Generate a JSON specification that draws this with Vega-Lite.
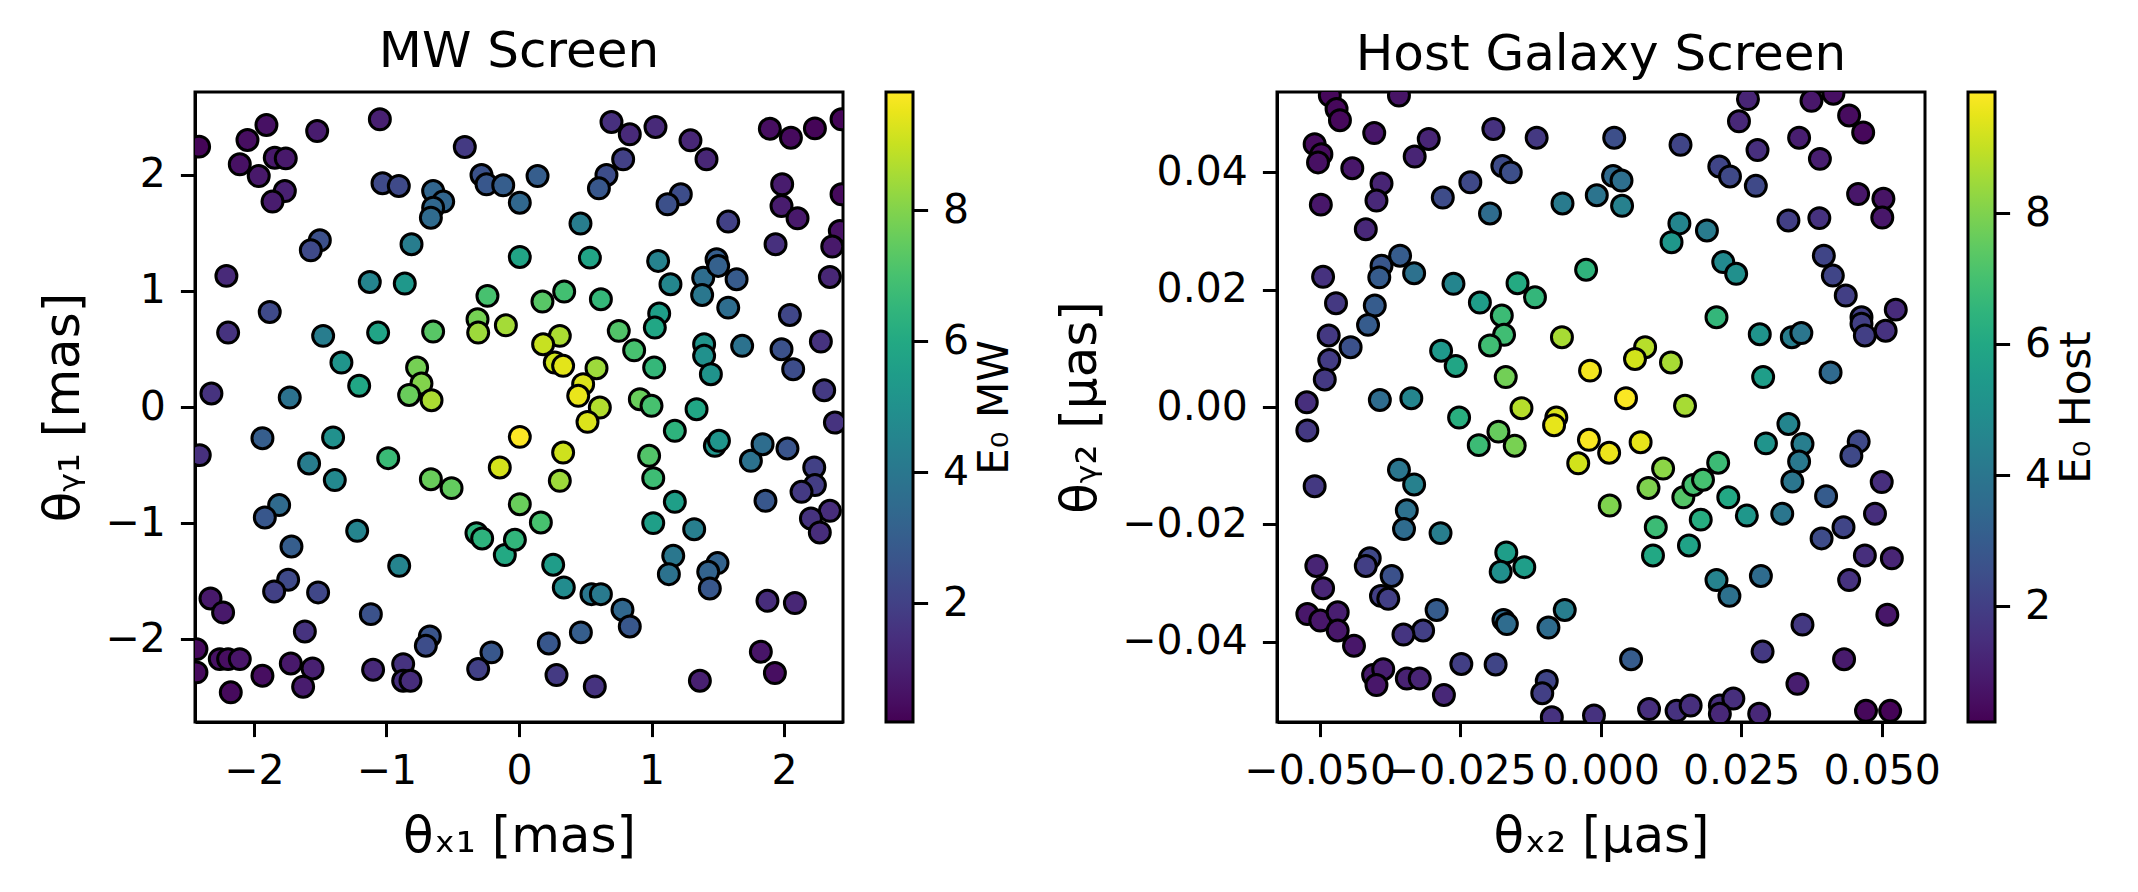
{
"$schema": "https://vega.github.io/schema/vega-lite/v6.json",
"background": "white",
"padding": {"left": 37, "top": 25, "right": 20, "bottom": 5},
"datasets": {
"mw": [
{"x":-2.414,"y":2.240,"e":0.3},{"x":-1.906,"y":2.426,"e":0.6},{"x":-2.049,"y":2.297,"e":0.5},{"x":-2.107,"y":2.088,"e":0.6},{"x":-1.843,"y":2.145,"e":0.8},{"x":-1.760,"y":2.139,"e":0.8},{"x":-1.964,"y":1.987,"e":0.8},{"x":-1.767,"y":1.858,"e":1.0},{"x":-1.860,"y":1.767,"e":0.9},{"x":-1.523,"y":2.374,"e":0.9},
{"x":-1.050,"y":2.475,"e":1.0},{"x":-0.409,"y":2.237,"e":1.8},{"x":-0.283,"y":1.996,"e":2.6},{"x":-0.245,"y":1.916,"e":2.8},{"x":-0.119,"y":1.907,"e":3.0},{"x":0.006,"y":1.758,"e":3.4},{"x":-1.030,"y":1.925,"e":2.3},{"x":-0.907,"y":1.902,"e":2.3},{"x":-0.648,"y":1.858,"e":3.3},{"x":-0.572,"y":1.767,"e":3.3},
{"x":-0.648,"y":1.715,"e":3.4},{"x":-0.665,"y":1.629,"e":3.5},{"x":-1.503,"y":1.434,"e":2.5},{"x":-1.571,"y":1.348,"e":2.3},{"x":-0.811,"y":1.400,"e":4.2},{"x":0.006,"y":1.291,"e":5.8},{"x":-2.208,"y":1.128,"e":1.3},{"x":-1.126,"y":1.076,"e":4.5},{"x":-0.862,"y":1.062,"e":5.3},{"x":-1.881,"y":0.818,"e":2.3},
{"x":-2.195,"y":0.640,"e":1.6},{"x":-1.478,"y":0.612,"e":4.2},{"x":-1.063,"y":0.640,"e":5.8},{"x":-0.648,"y":0.649,"e":7.3},{"x":-0.238,"y":0.956,"e":7.0},{"x":-0.313,"y":0.755,"e":7.8},{"x":-0.308,"y":0.640,"e":8.4},{"x":-0.099,"y":0.703,"e":8.5},{"x":-1.340,"y":0.382,"e":5.2},{"x":-1.206,"y":0.182,"e":5.9},
{"x":-0.769,"y":0.339,"e":7.8},{"x":-0.736,"y":0.202,"e":8.0},{"x":-0.829,"y":0.104,"e":7.6},{"x":-0.660,"y":0.058,"e":8.6},{"x":-2.321,"y":0.116,"e":1.6},{"x":-1.730,"y":0.081,"e":3.8},{"x":-1.936,"y":-0.268,"e":3.0},{"x":-1.403,"y":-0.262,"e":5.0},{"x":-2.409,"y":-0.414,"e":1.5},{"x":-1.584,"y":-0.486,"e":4.2},
{"x":-1.390,"y":-0.629,"e":4.7},{"x":-0.987,"y":-0.440,"e":6.7},{"x":-0.665,"y":-0.621,"e":7.6},{"x":-0.509,"y":-0.698,"e":7.5},{"x":0.006,"y":-0.257,"e":9.8},{"x":-0.145,"y":-0.520,"e":9.2},{"x":0.006,"y":-0.836,"e":7.6},{"x":-1.810,"y":-0.844,"e":3.5},{"x":-1.918,"y":-0.950,"e":2.8},{"x":-1.221,"y":-1.065,"e":4.5},
{"x":-1.717,"y":-1.200,"e":3.0},{"x":-0.904,"y":-1.366,"e":4.5},{"x":-0.321,"y":-1.085,"e":6.4},{"x":-0.278,"y":-1.131,"e":6.4},{"x":-0.107,"y":-1.274,"e":6.0},{"x":-0.031,"y":-1.142,"e":6.5},{"x":-1.742,"y":-1.486,"e":2.3},{"x":-1.848,"y":-1.587,"e":2.0},{"x":-1.516,"y":-1.595,"e":2.2},{"x":-2.328,"y":-1.647,"e":0.8},
{"x":-2.233,"y":-1.767,"e":0.8},{"x":-1.118,"y":-1.782,"e":2.6},{"x":-1.616,"y":-1.931,"e":1.6},{"x":-0.673,"y":-1.974,"e":2.7},{"x":-0.703,"y":-2.054,"e":2.4},{"x":-0.208,"y":-2.111,"e":2.8},{"x":-0.308,"y":-2.255,"e":2.0},{"x":-2.434,"y":-2.083,"e":0.4},{"x":-2.434,"y":-2.283,"e":0.4},{"x":-2.258,"y":-2.169,"e":0.6},
{"x":-2.195,"y":-2.169,"e":0.5},{"x":-2.107,"y":-2.169,"e":0.7},{"x":-1.936,"y":-2.312,"e":0.5},{"x":-2.175,"y":-2.455,"e":0.4},{"x":-1.722,"y":-2.206,"e":0.8},{"x":-1.558,"y":-2.249,"e":1.0},{"x":-1.629,"y":-2.406,"e":0.9},{"x":-1.101,"y":-2.260,"e":1.3},{"x":-0.874,"y":-2.212,"e":1.6},{"x":-0.874,"y":-2.355,"e":1.5},
{"x":-0.819,"y":-2.355,"e":1.4},{"x":0.140,"y":1.987,"e":3.0},{"x":0.698,"y":2.452,"e":1.5},{"x":0.836,"y":2.346,"e":1.3},{"x":1.030,"y":2.409,"e":1.3},{"x":1.294,"y":2.294,"e":1.2},{"x":1.415,"y":2.131,"e":1.2},{"x":0.786,"y":2.131,"e":2.0},{"x":0.660,"y":1.996,"e":2.4},{"x":0.603,"y":1.881,"e":2.8},
{"x":1.221,"y":1.830,"e":2.4},{"x":1.121,"y":1.744,"e":2.5},{"x":0.464,"y":1.578,"e":4.2},{"x":1.579,"y":1.595,"e":2.0},{"x":1.893,"y":2.394,"e":0.5},{"x":2.052,"y":2.317,"e":0.4},{"x":2.233,"y":2.397,"e":0.3},{"x":2.434,"y":2.475,"e":0.3},{"x":1.986,"y":1.916,"e":0.9},{"x":1.981,"y":1.729,"e":0.9},
{"x":2.102,"y":1.623,"e":0.8},{"x":2.434,"y":1.830,"e":0.4},{"x":2.421,"y":1.514,"e":0.6},{"x":2.364,"y":1.380,"e":0.8},{"x":1.936,"y":1.400,"e":1.5},{"x":2.346,"y":1.119,"e":1.2},{"x":0.535,"y":1.285,"e":5.8},{"x":1.050,"y":1.257,"e":4.4},{"x":1.143,"y":1.056,"e":4.6},{"x":1.390,"y":1.113,"e":3.6},
{"x":1.491,"y":1.271,"e":3.0},{"x":1.503,"y":1.214,"e":3.1},{"x":1.642,"y":1.099,"e":2.9},{"x":1.382,"y":0.964,"e":4.0},{"x":1.579,"y":0.855,"e":3.6},{"x":0.177,"y":0.907,"e":7.3},{"x":0.341,"y":0.993,"e":6.9},{"x":0.618,"y":0.927,"e":6.6},{"x":1.058,"y":0.804,"e":5.6},{"x":1.025,"y":0.683,"e":5.9},
{"x":0.753,"y":0.655,"e":7.2},{"x":0.869,"y":0.488,"e":7.0},{"x":1.020,"y":0.339,"e":6.6},{"x":0.308,"y":0.612,"e":8.6},{"x":0.182,"y":0.540,"e":9.0},{"x":0.270,"y":0.382,"e":9.1},{"x":0.333,"y":0.354,"e":9.4},{"x":0.585,"y":0.334,"e":8.4},{"x":0.484,"y":0.196,"e":9.3},{"x":0.447,"y":0.096,"e":9.5},
{"x":0.610,"y":-0.005,"e":8.7},{"x":0.912,"y":0.067,"e":7.6},{"x":1.000,"y":0.010,"e":7.0},{"x":1.397,"y":0.540,"e":5.2},{"x":1.397,"y":0.440,"e":5.0},{"x":1.448,"y":0.282,"e":5.1},{"x":1.684,"y":0.526,"e":3.8},{"x":2.044,"y":0.792,"e":2.2},{"x":2.278,"y":0.563,"e":1.6},{"x":1.981,"y":0.497,"e":2.6},
{"x":2.069,"y":0.325,"e":2.4},{"x":2.303,"y":0.144,"e":1.8},{"x":1.340,"y":-0.019,"e":5.9},{"x":0.517,"y":-0.128,"e":9.3},{"x":2.384,"y":-0.134,"e":1.6},{"x":0.333,"y":-0.392,"e":9.1},{"x":0.308,"y":-0.635,"e":8.4},{"x":0.982,"y":-0.420,"e":7.2},{"x":1.013,"y":-0.612,"e":6.8},{"x":1.176,"y":-0.205,"e":6.4},
{"x":1.478,"y":-0.334,"e":5.2},{"x":1.509,"y":-0.291,"e":5.2},{"x":1.750,"y":-0.463,"e":3.8},{"x":1.838,"y":-0.320,"e":3.6},{"x":2.026,"y":-0.357,"e":2.7},{"x":2.228,"y":-0.520,"e":2.0},{"x":2.233,"y":-0.672,"e":1.9},{"x":2.132,"y":-0.730,"e":1.8},{"x":2.346,"y":-0.893,"e":1.4},{"x":2.203,"y":-0.959,"e":1.6},
{"x":2.270,"y":-1.079,"e":1.4},{"x":1.860,"y":-0.807,"e":2.8},{"x":0.165,"y":-0.993,"e":7.0},{"x":1.176,"y":-0.816,"e":5.6},{"x":1.013,"y":-0.999,"e":5.6},{"x":1.322,"y":-1.051,"e":4.3},{"x":1.164,"y":-1.280,"e":4.0},{"x":1.131,"y":-1.438,"e":3.8},{"x":1.498,"y":-1.343,"e":3.2},{"x":1.428,"y":-1.418,"e":3.2},
{"x":1.440,"y":-1.561,"e":2.8},{"x":0.258,"y":-1.357,"e":5.5},{"x":0.338,"y":-1.552,"e":4.8},{"x":0.547,"y":-1.610,"e":4.0},{"x":0.618,"y":-1.610,"e":4.1},{"x":0.781,"y":-1.744,"e":3.4},{"x":0.836,"y":-1.888,"e":2.8},{"x":0.467,"y":-1.939,"e":3.0},{"x":0.225,"y":-2.034,"e":2.8},{"x":0.283,"y":-2.306,"e":1.8},
{"x":0.572,"y":-2.404,"e":1.6},{"x":1.365,"y":-2.355,"e":1.0},{"x":1.875,"y":-1.667,"e":1.4},{"x":2.082,"y":-1.687,"e":1.2},{"x":1.825,"y":-2.105,"e":0.7},{"x":1.931,"y":-2.289,"e":0.5}
],
"host": [
{"x":-0.0482,"y":0.0531,"e":0.4},{"x":-0.0470,"y":0.0508,"e":0.4},{"x":-0.0464,"y":0.0489,"e":0.4},{"x":-0.0359,"y":0.0531,"e":0.7},{"x":-0.0403,"y":0.0467,"e":0.8},{"x":-0.0509,"y":0.0448,"e":0.5},{"x":-0.0497,"y":0.0431,"e":0.5},{"x":-0.0503,"y":0.0417,"e":0.6},{"x":-0.0442,"y":0.0407,"e":0.8},{"x":-0.0306,"y":0.0457,"e":1.2},
{"x":-0.0331,"y":0.0427,"e":1.2},{"x":-0.0390,"y":0.0381,"e":1.2},{"x":-0.0399,"y":0.0352,"e":1.3},{"x":-0.0498,"y":0.0345,"e":0.8},{"x":-0.0418,"y":0.0303,"e":1.3},{"x":-0.0191,"y":0.0474,"e":1.6},{"x":-0.0114,"y":0.0459,"e":1.8},{"x":-0.0175,"y":0.0411,"e":2.4},{"x":-0.0160,"y":0.0400,"e":2.5},{"x":-0.0232,"y":0.0383,"e":2.3},
{"x":-0.0281,"y":0.0357,"e":2.4},{"x":-0.0197,"y":0.0330,"e":3.6},{"x":-0.0068,"y":0.0347,"e":4.2},{"x":-0.0007,"y":0.0361,"e":3.9},{"x":-0.0494,"y":0.0222,"e":1.6},{"x":-0.0471,"y":0.0177,"e":1.8},{"x":-0.0390,"y":0.0241,"e":2.8},{"x":-0.0357,"y":0.0258,"e":3.0},{"x":-0.0394,"y":0.0221,"e":3.0},{"x":-0.0332,"y":0.0228,"e":3.8},
{"x":-0.0402,"y":0.0173,"e":3.0},{"x":-0.0414,"y":0.0140,"e":3.0},{"x":-0.0484,"y":0.0122,"e":1.8},{"x":-0.0445,"y":0.0102,"e":2.6},{"x":-0.0483,"y":0.0080,"e":1.9},{"x":-0.0491,"y":0.0047,"e":1.8},{"x":-0.0523,"y":0.0008,"e":1.5},{"x":-0.0262,"y":0.0210,"e":4.6},{"x":-0.0215,"y":0.0178,"e":5.6},{"x":-0.0148,"y":0.0211,"e":6.1},
{"x":-0.0117,"y":0.0187,"e":6.6},{"x":-0.0176,"y":0.0156,"e":6.8},{"x":-0.0172,"y":0.0123,"e":6.9},{"x":-0.0197,"y":0.0105,"e":6.9},{"x":-0.0026,"y":0.0234,"e":6.5},{"x":-0.0069,"y":0.0119,"e":8.6},{"x":-0.0019,"y":0.0062,"e":9.7},{"x":-0.0284,"y":0.0096,"e":5.4},{"x":-0.0258,"y":0.0070,"e":5.9},{"x":-0.0169,"y":0.0051,"e":7.8},
{"x":-0.0393,"y":0.0012,"e":3.6},{"x":-0.0337,"y":0.0015,"e":4.6},{"x":0.0262,"y":0.0525,"e":1.2},{"x":0.0246,"y":0.0487,"e":1.3},{"x":0.0375,"y":0.0522,"e":0.8},{"x":0.0414,"y":0.0534,"e":0.6},{"x":0.0442,"y":0.0497,"e":0.5},{"x":0.0467,"y":0.0468,"e":0.4},{"x":0.0353,"y":0.0459,"e":1.0},{"x":0.0390,"y":0.0423,"e":1.0},
{"x":0.0279,"y":0.0438,"e":1.5},{"x":0.0024,"y":0.0459,"e":2.5},{"x":0.0142,"y":0.0447,"e":2.2},{"x":0.0211,"y":0.0410,"e":2.2},{"x":0.0230,"y":0.0393,"e":2.3},{"x":0.0276,"y":0.0377,"e":2.3},{"x":0.0022,"y":0.0394,"e":3.5},{"x":0.0037,"y":0.0386,"e":3.7},{"x":0.0038,"y":0.0343,"e":4.4},{"x":0.0458,"y":0.0363,"e":0.8},
{"x":0.0503,"y":0.0355,"e":0.7},{"x":0.0501,"y":0.0323,"e":0.8},{"x":0.0334,"y":0.0318,"e":2.0},{"x":0.0389,"y":0.0322,"e":1.6},{"x":0.0140,"y":0.0313,"e":4.6},{"x":0.0189,"y":0.0301,"e":4.2},{"x":0.0126,"y":0.0281,"e":5.3},{"x":0.0218,"y":0.0247,"e":4.8},{"x":0.0241,"y":0.0227,"e":5.0},{"x":0.0397,"y":0.0258,"e":2.2},
{"x":0.0413,"y":0.0224,"e":2.2},{"x":0.0436,"y":0.0190,"e":2.0},{"x":0.0464,"y":0.0153,"e":2.0},{"x":0.0464,"y":0.0142,"e":2.0},{"x":0.0470,"y":0.0122,"e":2.0},{"x":0.0507,"y":0.0130,"e":1.6},{"x":0.0525,"y":0.0166,"e":1.4},{"x":0.0206,"y":0.0153,"e":6.6},{"x":0.0283,"y":0.0124,"e":5.2},{"x":0.0340,"y":0.0119,"e":4.3},
{"x":0.0357,"y":0.0126,"e":4.0},{"x":0.0289,"y":0.0051,"e":5.6},{"x":0.0409,"y":0.0059,"e":3.5},{"x":0.0079,"y":0.0102,"e":8.8},{"x":0.0061,"y":0.0082,"e":9.2},{"x":0.0125,"y":0.0076,"e":8.6},{"x":0.0045,"y":0.0015,"e":9.8},{"x":0.0150,"y":0.0002,"e":8.6},{"x":-0.0522,"y":-0.0040,"e":1.8},{"x":-0.0509,"y":-0.0135,"e":1.8},
{"x":-0.0252,"y":-0.0018,"e":6.3},{"x":-0.0182,"y":-0.0042,"e":7.6},{"x":-0.0217,"y":-0.0065,"e":6.8},{"x":-0.0153,"y":-0.0066,"e":7.9},{"x":-0.0141,"y":-0.0002,"e":8.8},{"x":-0.0079,"y":-0.0018,"e":9.3},{"x":-0.0083,"y":-0.0031,"e":9.5},{"x":-0.0021,"y":-0.0056,"e":9.8},{"x":0.0015,"y":-0.0078,"e":9.6},{"x":-0.0040,"y":-0.0096,"e":9.2},
{"x":0.0016,"y":-0.0168,"e":8.0},{"x":-0.0359,"y":-0.0107,"e":4.0},{"x":-0.0332,"y":-0.0132,"e":4.4},{"x":-0.0345,"y":-0.0176,"e":3.8},{"x":-0.0350,"y":-0.0208,"e":3.6},{"x":-0.0285,"y":-0.0215,"e":4.3},{"x":-0.0168,"y":-0.0248,"e":5.6},{"x":-0.0178,"y":-0.0281,"e":5.0},{"x":-0.0136,"y":-0.0273,"e":5.6},{"x":-0.0506,"y":-0.0271,"e":1.2},
{"x":-0.0494,"y":-0.0309,"e":1.2},{"x":-0.0522,"y":-0.0353,"e":0.8},{"x":-0.0499,"y":-0.0364,"e":0.8},{"x":-0.0468,"y":-0.0350,"e":1.0},{"x":-0.0468,"y":-0.0381,"e":0.8},{"x":-0.0439,"y":-0.0407,"e":0.8},{"x":-0.0411,"y":-0.0258,"e":2.3},{"x":-0.0418,"y":-0.0271,"e":2.0},{"x":-0.0372,"y":-0.0288,"e":2.6},{"x":-0.0391,"y":-0.0322,"e":2.0},
{"x":-0.0378,"y":-0.0327,"e":2.0},{"x":-0.0292,"y":-0.0346,"e":3.0},{"x":-0.0316,"y":-0.0381,"e":2.0},{"x":-0.0351,"y":-0.0388,"e":1.7},{"x":-0.0173,"y":-0.0363,"e":3.5},{"x":-0.0167,"y":-0.0370,"e":3.6},{"x":-0.0064,"y":-0.0346,"e":4.3},{"x":-0.0093,"y":-0.0376,"e":3.6},{"x":-0.0248,"y":-0.0438,"e":2.0},{"x":-0.0187,"y":-0.0439,"e":2.2},
{"x":-0.0405,"y":-0.0457,"e":0.9},{"x":-0.0387,"y":-0.0447,"e":1.0},{"x":-0.0399,"y":-0.0474,"e":0.8},{"x":-0.0345,"y":-0.0463,"e":1.1},{"x":-0.0322,"y":-0.0463,"e":1.2},{"x":-0.0279,"y":-0.0491,"e":1.3},{"x":-0.0096,"y":-0.0467,"e":2.2},{"x":-0.0104,"y":-0.0488,"e":2.0},{"x":-0.0087,"y":-0.0529,"e":1.6},{"x":-0.0012,"y":-0.0526,"e":1.6},
{"x":0.0071,"y":-0.0060,"e":9.5},{"x":0.0111,"y":-0.0105,"e":8.2},{"x":0.0085,"y":-0.0138,"e":8.0},{"x":0.0147,"y":-0.0154,"e":7.3},{"x":0.0165,"y":-0.0133,"e":7.0},{"x":0.0182,"y":-0.0124,"e":7.0},{"x":0.0209,"y":-0.0095,"e":6.8},{"x":0.0227,"y":-0.0154,"e":6.0},{"x":0.0260,"y":-0.0185,"e":5.3},{"x":0.0178,"y":-0.0192,"e":6.2},
{"x":0.0098,"y":-0.0205,"e":6.8},{"x":0.0093,"y":-0.0253,"e":6.0},{"x":0.0157,"y":-0.0236,"e":5.8},{"x":0.0294,"y":-0.0062,"e":5.2},{"x":0.0334,"y":-0.0029,"e":4.6},{"x":0.0359,"y":-0.0063,"e":4.3},{"x":0.0353,"y":-0.0093,"e":4.1},{"x":0.0341,"y":-0.0127,"e":4.0},{"x":0.0323,"y":-0.0182,"e":4.0},{"x":0.0401,"y":-0.0152,"e":3.0},
{"x":0.0459,"y":-0.0059,"e":2.3},{"x":0.0446,"y":-0.0083,"e":2.3},{"x":0.0500,"y":-0.0128,"e":1.5},{"x":0.0488,"y":-0.0182,"e":1.5},{"x":0.0432,"y":-0.0205,"e":2.2},{"x":0.0393,"y":-0.0224,"e":2.4},{"x":0.0470,"y":-0.0253,"e":1.5},{"x":0.0518,"y":-0.0258,"e":1.2},{"x":0.0442,"y":-0.0295,"e":1.6},{"x":0.0510,"y":-0.0354,"e":0.8},
{"x":0.0206,"y":-0.0295,"e":4.5},{"x":0.0229,"y":-0.0322,"e":3.8},{"x":0.0285,"y":-0.0288,"e":3.6},{"x":0.0359,"y":-0.0371,"e":1.8},{"x":0.0288,"y":-0.0417,"e":1.8},{"x":0.0433,"y":-0.0430,"e":0.9},{"x":0.0350,"y":-0.0472,"e":1.0},{"x":0.0054,"y":-0.0430,"e":3.0},{"x":0.0086,"y":-0.0515,"e":1.5},{"x":0.0135,"y":-0.0518,"e":1.6},
{"x":0.0160,"y":-0.0509,"e":1.5},{"x":0.0212,"y":-0.0509,"e":1.5},{"x":0.0236,"y":-0.0497,"e":1.5},{"x":0.0212,"y":-0.0523,"e":1.3},{"x":0.0282,"y":-0.0523,"e":1.3},{"x":0.0472,"y":-0.0518,"e":0.4},{"x":0.0515,"y":-0.0518,"e":0.3}
]
},
"hconcat": [
{
"data": {"name": "mw"},
"title": {"text": "MW Screen"},
"width": 648, "height": 630,
"layer": [
{
"mark": {"type": "point", "shape": "circle", "filled": true, "size": 440, "stroke": "black", "strokeWidth": 3, "opacity": 1, "clip": true},
"encoding": {
"x": {"field": "x", "type": "quantitative", "scale": {"domain": [-2.445, 2.445], "nice": false, "zero": false}, "axis": {"values": [-2, -1, 0, 1, 2], "format": "d", "title": "θₓ₁ [mas]"}},
"y": {"field": "y", "type": "quantitative", "scale": {"domain": [-2.71, 2.71], "nice": false, "zero": false}, "axis": {"values": [-2, -1, 0, 1, 2], "format": "d", "title": "θᵧ₁ [mas]"}},
"color": {"field": "e", "type": "quantitative", "scale": {"scheme": "viridis", "domain": [0.19, 9.8]}, "legend": {"title": null, "orient": "none", "legendX": 691, "legendY": 0, "labelExpr": "''", "labelOpacity": 0}}
}
},
{
"mark": {"type": "point", "opacity": 0},
"encoding": {
"y": {"field": "e", "type": "quantitative", "scale": {"domain": [0.19, 9.8], "nice": false, "zero": false}, "axis": {"orient": "right", "offset": 70, "domain": false, "values": [2, 4, 6, 8], "format": "d", "title": "E₀ MW", "titleAngle": 270, "titleBaseline": "top", "titleFontSize": 42, "titlePadding": 6}}
}
}
],
"resolve": {"scale": {"y": "independent"}, "axis": {"y": "independent"}}
},
{
"data": {"name": "host"},
"title": {"text": "Host Galaxy Screen"},
"width": 648, "height": 630,
"layer": [
{
"mark": {"type": "point", "shape": "circle", "filled": true, "size": 440, "stroke": "black", "strokeWidth": 3, "opacity": 1, "clip": true},
"encoding": {
"x": {"field": "x", "type": "quantitative", "scale": {"domain": [-0.0576, 0.0577], "nice": false, "zero": false}, "axis": {"values": [-0.05, -0.025, 0, 0.025, 0.05], "format": ".3f", "title": "θₓ₂ [μas]"}},
"y": {"field": "y", "type": "quantitative", "scale": {"domain": [-0.0537, 0.0537], "nice": false, "zero": false}, "axis": {"values": [-0.04, -0.02, 0, 0.02, 0.04], "format": ".2f", "title": "θᵧ₂ [μas]"}},
"color": {"field": "e", "type": "quantitative", "scale": {"scheme": "viridis", "domain": [0.23, 9.85]}, "legend": {"title": null, "orient": "none", "legendX": 691, "legendY": 0, "labelExpr": "''", "labelOpacity": 0}}
}
},
{
"mark": {"type": "point", "opacity": 0},
"encoding": {
"y": {"field": "e", "type": "quantitative", "scale": {"domain": [0.23, 9.85], "nice": false, "zero": false}, "axis": {"orient": "right", "offset": 70, "domain": false, "values": [2, 4, 6, 8], "format": "d", "title": "E₀ Host", "titleAngle": 270, "titleBaseline": "top", "titleFontSize": 42, "titlePadding": 6}}
}
}
],
"resolve": {"scale": {"y": "independent"}, "axis": {"y": "independent"}}
}
],
"spacing": 36,
"resolve": {"scale": {"color": "independent"}},
"config": {
"font": "DejaVu Sans",
"view": {"stroke": "black", "strokeWidth": 3},
"title": {"fontSize": 50, "fontWeight": "normal", "color": "black", "offset": 12, "anchor": "middle"},
"axis": {"grid": false, "domain": true, "domainColor": "black", "domainWidth": 3, "ticks": true, "tickColor": "black", "tickWidth": 3, "tickSize": 14.6, "labelFontSize": 41, "labelColor": "black", "labelPadding": 15, "titleFontSize": 50, "titleFontWeight": "normal", "titleColor": "black", "zindex": 1, "labelOverlap": false, "labelFlush": false},
"axisX": {"titlePadding": 20},
"axisY": {"titlePadding": 16},
"legend": {"type": "gradient", "direction": "vertical", "gradientLength": 630, "gradientThickness": 27, "gradientStrokeColor": "black", "gradientStrokeWidth": 3, "padding": 0, "labelOverlap": false}
}
}
